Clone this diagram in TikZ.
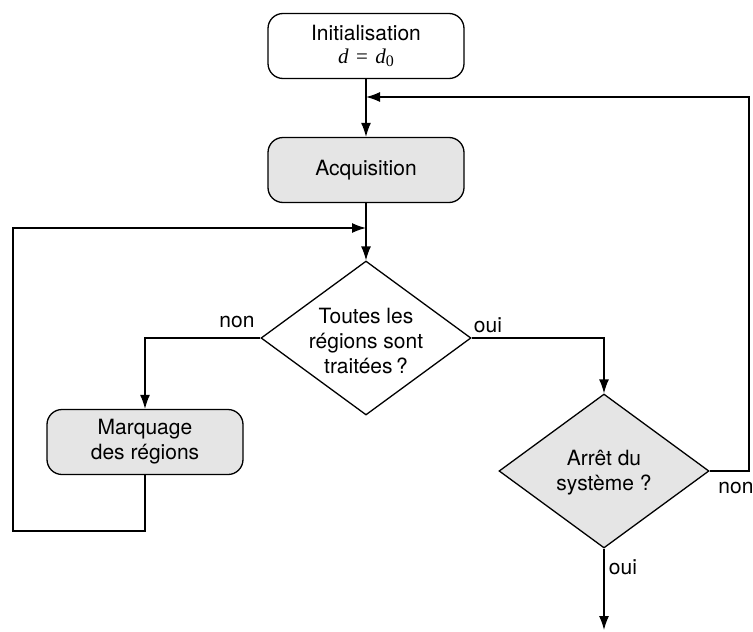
\documentclass[tikz,border=0pt]{standalone}
\usepackage{fontspec}
\setmainfont{TeX Gyre Heros}
\newfontfamily\tms{Liberation Serif}
\usetikzlibrary{shapes.geometric,arrows.meta}
\begin{document}
\begin{tikzpicture}[x=1pt,y=-1pt,
  every node/.style={font=\fontsize{21}{25}\selectfont},
  rbox/.style={draw, line width=1.3pt, rounded corners=15pt, minimum width=196pt, minimum height=65pt, inner sep=0pt, align=center},
  dbox/.style={draw, line width=1.3pt, diamond, minimum width=210pt, minimum height=154pt, inner sep=0pt},
  txt/.style={align=center, inner sep=0pt},
  lbl/.style={inner sep=0pt},
  conn/.style={line width=1.3pt},
  arr/.style={line width=1.3pt, -{Latex[length=14pt,width=10pt]}}
]
\useasboundingbox (0,0) rectangle (753,632);
\node[rbox, fill=white] (init) at (366,46) {Initialisation\\[-2pt]{\tms\itshape d}\hspace{0.35em}{\tms =}\hspace{0.35em}{\tms\itshape d}\raisebox{-0.15em}{\tms\fontsize{16}{16}\selectfont 0}};
\node[rbox, fill=gray!20] (acq) at (366,170) {Acquisition};
\node[dbox, fill=white] (d1) at (366,338) {};
\node[txt] (d1t) at (366,341) {Toutes les\\régions sont\\traitées\,?};
\node[rbox, fill=gray!20] (marq) at (145,442) {Marquage\\des régions};
\node[dbox, fill=gray!20] (d2) at (604,471) {};
\node[txt] (d2t) at (604,473) {Arrêt du\\système ?};

\coordinate (r1) at (749,471);
\coordinate (r2) at (749,97);
\coordinate (j1) at (366,97);
\coordinate (l1) at (145,338);
\coordinate (b1) at (145,531);
\coordinate (b2) at (13,531);
\coordinate (b3) at (13,228);
\coordinate (j2) at (366,228);
\coordinate (o1) at (604,338);
\coordinate (e1) at (604,630);

\draw[arr] (init.south) -- (acq.north);
\draw[arr] (d2.east) -- (r1) -- (r2) -- (j1);
\draw[arr] (acq.south) -- (d1.north);
\draw[arr] (d1.west) -- (l1) -- (marq.north);
\draw[arr] (marq.south) -- (b1) -- (b2) -- (b3) -- (j2);
\draw[arr] (d1.east) -- (o1) -- (d2.north);
\draw[arr] (d2.south) -- (e1);

\node[lbl] (n1) at (237,322) {non};
\node[lbl] (o1l) at (488,325) {oui};
\node[lbl] (n2) at (736,488) {non};
\node[lbl] (o2l) at (623,567) {oui};
\end{tikzpicture}
\end{document}
